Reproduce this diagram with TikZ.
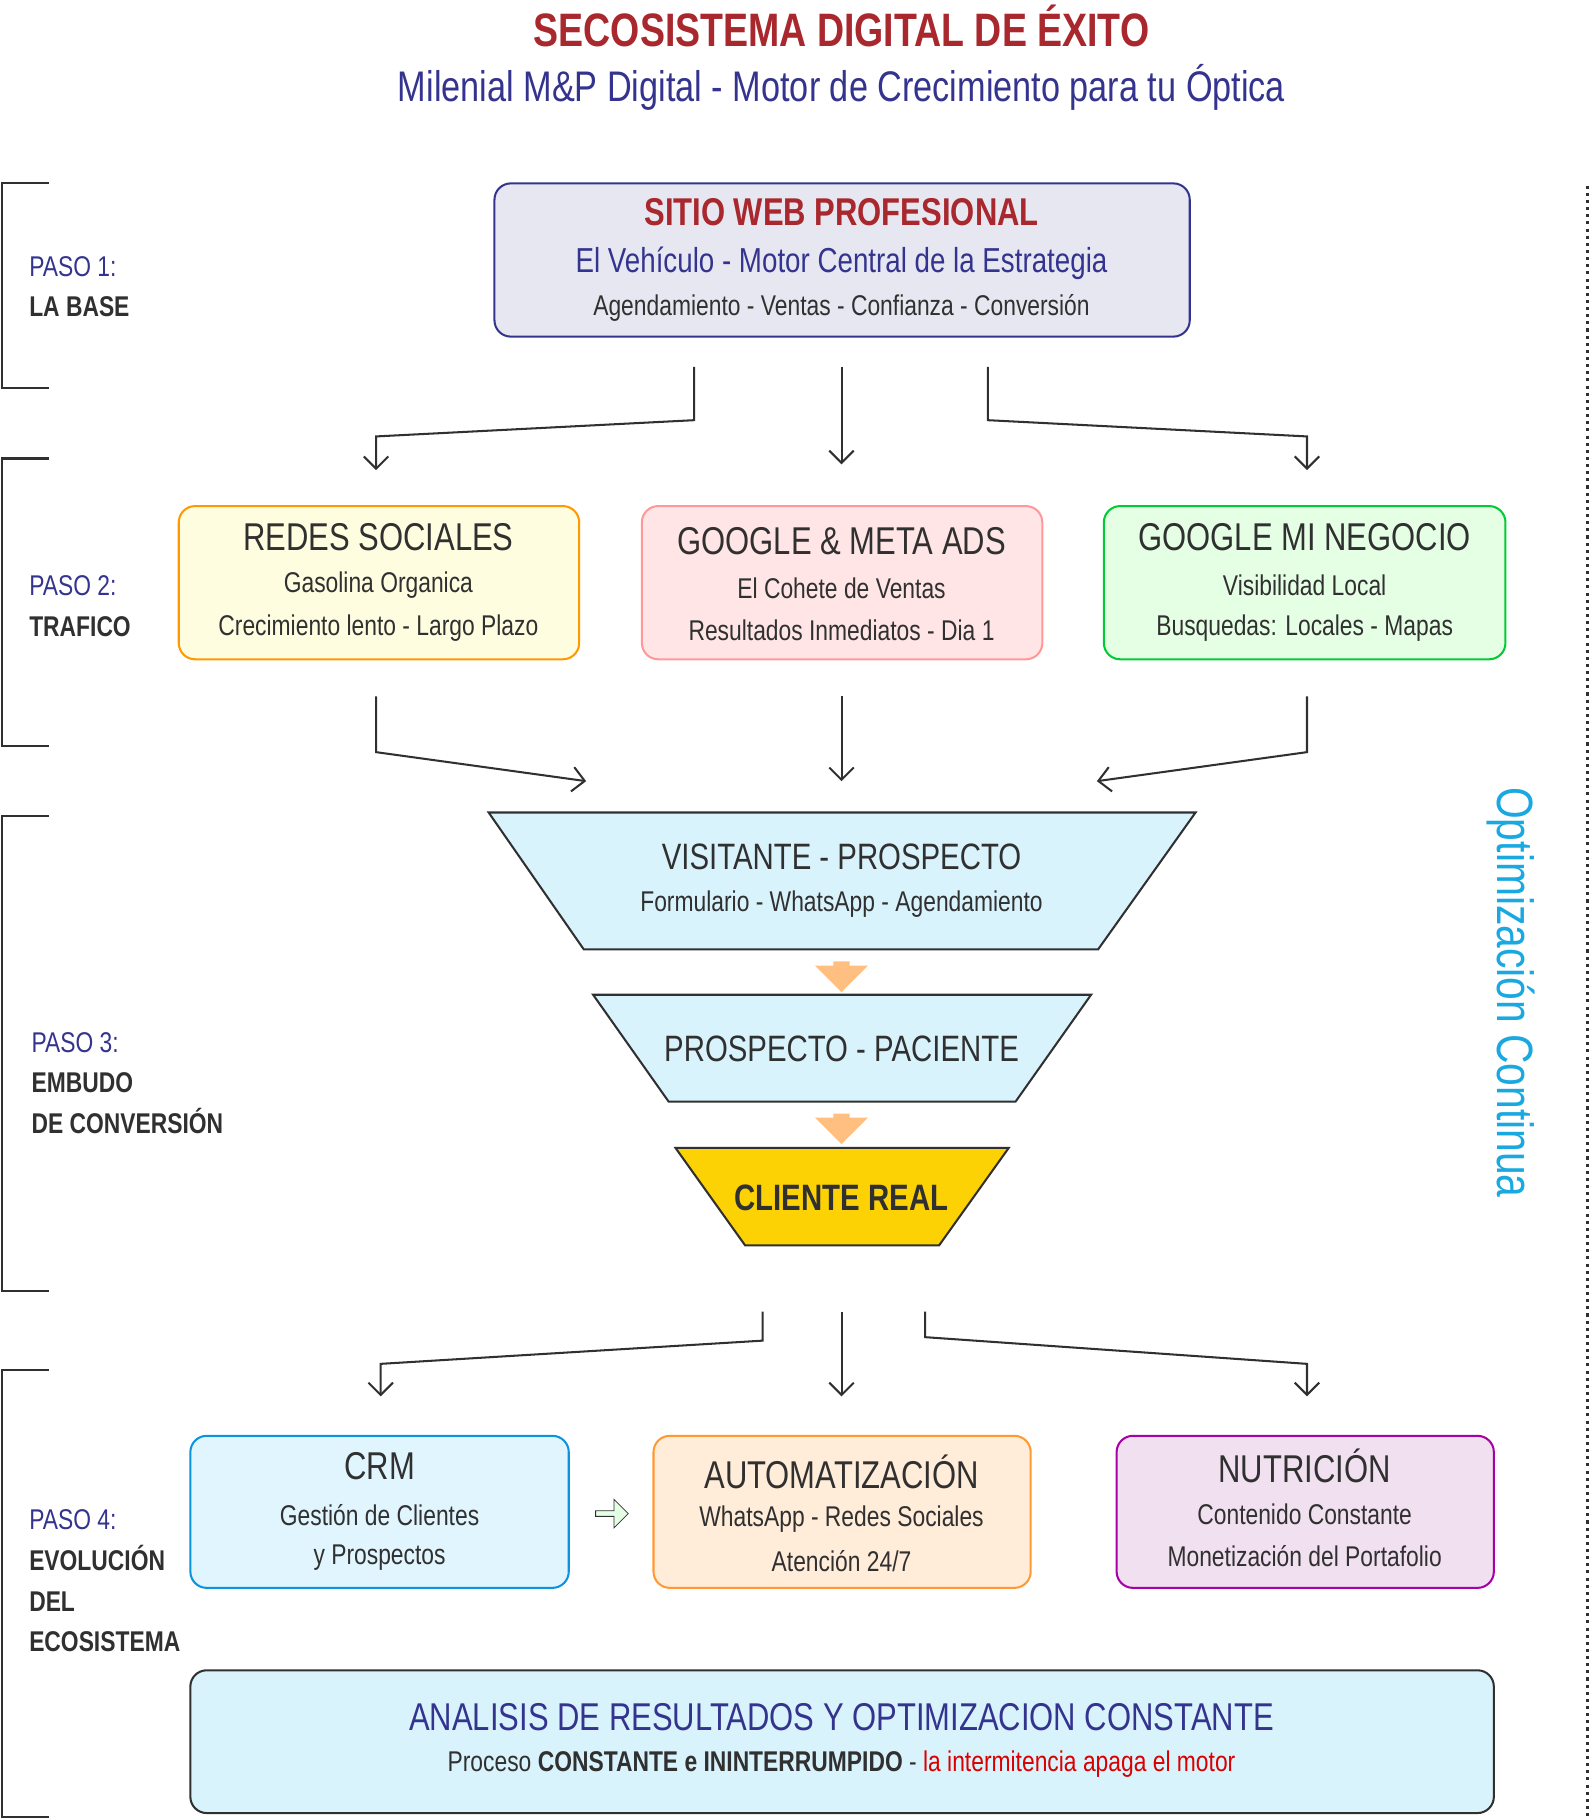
\documentclass[tikz,border=0pt]{standalone}
\usepackage{fontspec}
\setmainfont{Liberation Sans}[FakeStretch=0.8]
\usepackage{xcolor}
\usetikzlibrary{positioning,shapes.geometric,shapes.arrows,arrows.meta}
\definecolor{darkred}{HTML}{A8282E}
\definecolor{indigo}{HTML}{34348F}
\definecolor{ink}{HTML}{303030}
\definecolor{cyanish}{HTML}{1AA8E0}
\tikzset{
  box/.style={draw, rounded corners=8pt, line width=1pt},
  flow/.style={->, draw=ink, line width=1pt, >={Straight Barb[length=6pt,width=12pt]}},
  funnel/.style={draw=ink, line width=1pt},
  bracket/.style={draw=ink, line width=1pt},
  txt/.style={text=ink, inner sep=0pt}
}
\begin{document}
\begin{tikzpicture}[x=0.02cm, y=-0.02cm]
\useasboundingbox (0,0) rectangle (1372,1568);
% titles
\node[text=darkred, font=\fontsize{23}{26}\selectfont\bfseries] (title) at (725,22) {SECOSISTEMA DIGITAL DE ÉXITO};
\node[text=indigo, font=\fontsize{21}{24}\selectfont] (subtitle) at (725,75) {Milenial M\&P Digital - Motor de Crecimiento para tu Óptica};

% left brackets
\draw[bracket] (42,158) -- (2,158) -- (2,334) -- (42,334);
\draw[bracket] (42,395) -- (2,395) -- (2,643) -- (42,643);
\draw[bracket] (42,703) -- (2,703) -- (2,1112) -- (42,1112);
\draw[bracket] (42,1180) -- (2,1180) -- (2,1565) -- (42,1565);
\node[anchor=west, align=left, font=\fontsize{14}{20}\selectfont] (paso1) at (19,247) {\textcolor{indigo}{PASO 1:}\\\textcolor{ink}{\bfseries LA BASE}};
\node[anchor=west, align=left, font=\fontsize{14}{20}\selectfont] (paso2) at (19,522) {\textcolor{indigo}{PASO 2:}\\\textcolor{ink}{\bfseries TRAFICO}};
\node[anchor=west, align=left, font=\fontsize{14}{20}\selectfont] (paso3) at (21,933) {\textcolor{indigo}{PASO 3:}\\\textcolor{ink}{\bfseries EMBUDO}\\\textcolor{ink}{\bfseries DE CONVERSIÓN}};
\node[anchor=west, align=left, font=\fontsize{14}{20}\selectfont] (paso4) at (19,1362) {\textcolor{indigo}{PASO 4:}\\\textcolor{ink}{\bfseries EVOLUCIÓN}\\\textcolor{ink}{\bfseries DEL}\\\textcolor{ink}{\bfseries ECOSISTEMA}};

% paso 1
\draw[box, draw=indigo, fill=indigo!12!white] (426,158) rectangle (1025,290);
\node[text=darkred, font=\fontsize{19}{22}\selectfont\bfseries] (web) at (725,183) {SITIO WEB PROFESIONAL};
\node[text=indigo, font=\fontsize{17}{20}\selectfont] (webA) at (725,227) {El Vehículo - Motor Central de la Estrategia};
\node[txt, font=\fontsize{14}{17}\selectfont] (webB) at (725,265) {Agendamiento - Ventas - Confianza - Conversión};

\coordinate (w1) at (598,316); \coordinate (w2) at (725,316); \coordinate (w3) at (851,316);
\coordinate (r1) at (324,405); \coordinate (r2) at (725,400); \coordinate (r3) at (1126,405);
\draw[flow] (w1) -- (598,362) -- (324,376) -- (r1);
\draw[flow] (w2) -- (r2);
\draw[flow] (w3) -- (851,362) -- (1126,376) -- (r3);

% paso 2
\draw[box, draw=orange!80!yellow, fill=yellow!12!white] (154,436) rectangle (499,568);
\node[txt, font=\fontsize{19}{22}\selectfont] (redes) at (326,463) {REDES SOCIALES};
\node[txt, font=\fontsize{14}{17}\selectfont] (redesA) at (326,504) {Gasolina Organica};
\node[txt, font=\fontsize{14}{17}\selectfont] (redesB) at (326,541) {Crecimiento lento - Largo Plazo};
\draw[box, draw=red!40!white, fill=red!10!white] (553,436) rectangle (898,568);
\node[txt, font=\fontsize{19}{22}\selectfont] (ads) at (725,466) {GOOGLE \& META ADS};
\node[txt, font=\fontsize{14}{17}\selectfont] (adsA) at (725,507) {El Cohete de Ventas};
\node[txt, font=\fontsize{14}{17}\selectfont] (adsB) at (725,543) {Resultados Inmediatos - Dia 1};
\draw[box, draw=green!60!teal, fill=green!10!white] (951,436) rectangle (1297,568);
\node[txt, font=\fontsize{19}{22}\selectfont] (gmn) at (1124,463) {GOOGLE MI NEGOCIO};
\node[txt, font=\fontsize{14}{17}\selectfont] (gmnA) at (1124,504) {Visibilidad Local};
\node[txt, font=\fontsize{14}{17}\selectfont] (gmnB) at (1124,541) {Busquedas: Locales - Mapas};

\coordinate (s1) at (324,600); \coordinate (s2) at (725,600); \coordinate (s3) at (1126,600);
\coordinate (f1) at (505,673); \coordinate (f2) at (725,673); \coordinate (f3) at (945,673);
\draw[flow] (s1) -- (324,648) -- (f1);
\draw[flow] (s2) -- (f2);
\draw[flow] (s3) -- (1126,648) -- (f3);

% paso 3 funnel
\draw[funnel, fill=cyan!15!white] (421,700) -- (1030,700) -- (946,818) -- (503,818) -- cycle;
\node[txt, font=\fontsize{18}{21}\selectfont] (visit) at (725,738) {VISITANTE - PROSPECTO};
\node[txt, font=\fontsize{14}{17}\selectfont] (visitA) at (725,779) {Formulario - WhatsApp - Agendamiento};
\node[single arrow, shape border rotate=270, fill=orange!50!white, single arrow head extend=5pt, minimum width=26pt, minimum height=15pt, inner sep=2pt] (o1) at (725,838) {};
\draw[funnel, fill=cyan!15!white] (511,857) -- (940,857) -- (875,949) -- (576,949) -- cycle;
\node[txt, font=\fontsize{18}{21}\selectfont] (prosp) at (725,904) {PROSPECTO - PACIENTE};
\node[single arrow, shape border rotate=270, fill=orange!50!white, single arrow head extend=5pt, minimum width=26pt, minimum height=15pt, inner sep=2pt] (o2) at (725,969) {};
\draw[funnel, fill=yellow!70!orange] (582,989) -- (869,989) -- (809,1073) -- (642,1073) -- cycle;
\node[txt, font=\fontsize{18}{21}\selectfont\bfseries] (cliente) at (725,1032) {CLIENTE REAL};

\coordinate (c1) at (657,1130); \coordinate (c2) at (725,1130); \coordinate (c3) at (797,1130);
\coordinate (e1) at (328,1203); \coordinate (e2) at (725,1203); \coordinate (e3) at (1126,1203);
\draw[flow] (c1) -- (657,1155) -- (328,1175) -- (e1);
\draw[flow] (c2) -- (e2);
\draw[flow] (c3) -- (797,1152) -- (1126,1175) -- (e3);

% paso 4
\draw[box, draw=cyan!80!blue, fill=cyan!12!white] (164,1237) rectangle (490,1368);
\node[txt, font=\fontsize{19}{22}\selectfont] (crm) at (327,1263) {CRM};
\node[txt, font=\fontsize{14}{17}\selectfont] (crmA) at (327,1305) {Gestión de Clientes};
\node[txt, font=\fontsize{14}{17}\selectfont] (crmB) at (327,1342) {y Prospectos};
\draw[box, draw=orange!80!white, fill=orange!15!white] (563,1237) rectangle (888,1368);
\node[txt, font=\fontsize{19}{22}\selectfont] (auto) at (725,1268) {AUTOMATIZACIÓN};
\node[txt, font=\fontsize{14}{17}\selectfont] (autoA) at (725,1309) {WhatsApp - Redes Sociales};
\node[txt, font=\fontsize{14}{17}\selectfont] (autoB) at (725,1345) {Atención 24/7};
\draw[box, draw=violet!70!magenta, fill=violet!12!white] (962,1237) rectangle (1287,1368);
\node[txt, font=\fontsize{19}{22}\selectfont] (nutri) at (1124,1263) {NUTRICIÓN};
\node[txt, font=\fontsize{14}{17}\selectfont] (nutriA) at (1124,1305) {Contenido Constante};
\node[txt, font=\fontsize{14}{17}\selectfont] (nutriB) at (1124,1341) {Monetización del Portafolio};
\node[single arrow, draw=ink, fill=green!10!white, single arrow head extend=5pt, minimum width=14pt, minimum height=16pt, inner sep=1pt] (link) at (526,1304) {};

\draw[box, draw=ink, fill=cyan!15!white] (164,1439) rectangle (1287,1562);
\node[text=indigo, font=\fontsize{19}{22}\selectfont] (anal) at (725,1479) {ANALISIS DE RESULTADOS Y OPTIMIZACION CONSTANTE};
\node[txt, font=\fontsize{14}{17}\selectfont] (analA) at (725,1520) {Proceso \textbf{CONSTANTE e ININTERRUMPIDO} - \textcolor{red!85!black}{la intermitencia apaga el motor}};

% right side
\node[text=cyanish, rotate=-90, font=\fontsize{25}{28}\selectfont] (optim) at (1302,855) {Optimización Continua};
\draw[ink, line width=1.5pt, dotted] (1368,160) -- (1368,1565);
\end{tikzpicture}
\end{document}
